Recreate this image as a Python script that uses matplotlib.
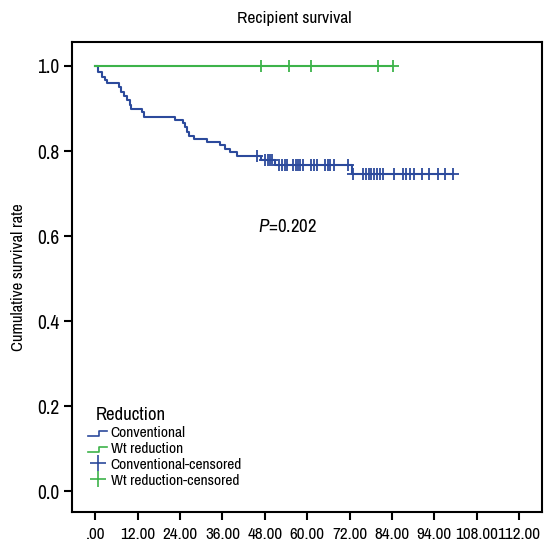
import numpy as np
import matplotlib
matplotlib.use('Agg')
import matplotlib.pyplot as plt
from matplotlib import font_manager
from matplotlib.lines import Line2D
from matplotlib.legend_handler import HandlerBase

# pick a narrow face if one is there
names = {(f.name, f.stretch) for f in font_manager.fontManager.ttflist}
narrow = [n for n, s in names if 'Narrow' in n or 'Condensed' in n]
if narrow:
    fam = sorted(narrow)[0]
    plt.rcParams['font.family'] = [fam, 'DejaVu Sans']
else:
    fam = 'DejaVu Sans'
    plt.rcParams['font.family'] = ['DejaVu Sans']
    plt.rcParams['font.stretch'] = 'condensed'
plt.rcParams['mathtext.fontset'] = 'custom'
plt.rcParams['mathtext.it'] = fam + ':italic'
plt.rcParams['mathtext.rm'] = fam

# Conventional group: step times (months) and survival after each step
conv_times = [0, 0.8, 1.8, 2.7, 3.4, 6.7, 7.4, 8.2, 9.0, 9.8, 10.1, 13.1, 13.7,
              22.5, 24.7, 25.4, 25.9, 26.5, 28.0, 31.5, 35.3, 36.7, 38.2, 40.0,
              47.0, 51.0, 72.6]
conv_surv = [1.0, 0.985, 0.975, 0.968, 0.96, 0.95, 0.938, 0.93, 0.919, 0.909,
             0.899, 0.891, 0.88, 0.872, 0.865, 0.856, 0.844, 0.836, 0.829,
             0.821, 0.813, 0.805, 0.797, 0.788, 0.78, 0.766, 0.746]
conv_censored = [45.8, 48.0, 48.8, 49.4, 50.1,
                 52.1, 52.9, 53.7, 54.3, 56.0, 56.7, 57.4, 58.1, 58.8, 61.2,
                 61.9, 62.8, 65.0, 65.8, 66.4, 67.5, 71.6,
                 72.9, 75.9, 76.6, 77.5, 78.2, 79.0, 79.8, 80.6, 81.5, 84.5,
                 87.0, 88.0, 89.0, 90.2, 92.5, 94.5, 97.0, 99.0, 101.4]

# Weight reduction group: no events
wt_times = [0]
wt_surv = [1.0]
wt_censored = [46.8, 54.9, 61.0, 80.0, 84.2]

xtick_pos = [0, 12, 24, 36, 48, 60, 72, 84, 96, 108, 120]
xtick_labels = ['.00', '12.00', '24.00', '36.00', '48.00', '60.00', '72.00',
                '84.00', '94.00', '108.00', '112.00']
ytick_pos = [0.0, 0.2, 0.4, 0.6, 0.8, 1.0]

blue = '#2c4a9c'
green = '#3db34a'


def surv_at(times, surv, t):
    idx = np.searchsorted(times, t, side='right') - 1
    return np.array(surv)[idx]


class StepHandler(HandlerBase):
    def create_artists(self, legend, orig_handle, xdescent, ydescent,
                       width, height, fontsize, trans):
        x0 = -xdescent
        y0 = -ydescent + height * 0.1
        y1 = -ydescent + height * 0.55
        xs = [x0, x0 + width * 0.55, x0 + width * 0.55, x0 + width]
        ys = [y0, y0, y1, y1]
        ln = Line2D(xs, ys, color=orig_handle.get_color(), lw=1.2,
                    transform=trans)
        return [ln]


fig = plt.figure(figsize=(5.51, 5.45), dpi=100)
ax = fig.add_axes([0.1307, 0.0606, 0.853, 0.862])

conv_end = max(conv_censored)
ax.step(conv_times + [conv_end], conv_surv + [conv_surv[-1]], where='post',
        color=blue, lw=1.5)
wt_end = max(wt_censored)
ax.step(wt_times + [wt_end], wt_surv + [wt_surv[-1]], where='post',
        color=green, lw=1.5)

ax.plot(conv_censored, surv_at(conv_times, conv_surv, conv_censored),
        linestyle='none', marker='+', color=blue, ms=8, mew=1.3)
ax.plot(wt_censored, surv_at(wt_times, wt_surv, wt_censored),
        linestyle='none', marker='+', color=green, ms=8, mew=1.3)

ax.text(46, 0.622, r'$P$=0.202', fontsize=13.5, va='center', ha='left')

ax.set_xlim(-6.6, 126.5)
ax.set_ylim(-0.049, 1.056)
ax.set_xticks(xtick_pos)
ax.set_xticklabels(xtick_labels)
ax.set_yticks(ytick_pos)
ax.set_yticklabels(['%.1f' % v for v in ytick_pos])
ax.tick_params(direction='out', length=6, width=1.5, labelsize=14, pad=3)
ax.tick_params(axis='x', pad=5, labelsize=12.3)
for sp in ax.spines.values():
    sp.set_linewidth(1.5)

fig.text(294 / 551, 1 - 19 / 545, 'Recipient survival', fontsize=12.5,
         ha='center', va='center')
ax.set_ylabel('Cumulative survival rate', fontsize=12)
ax.yaxis.set_label_coords(-0.098, 0.5)

h_conv = Line2D([], [], color=blue)
h_wt = Line2D([], [], color=green)
h_conv_c = Line2D([], [], color=blue, marker='+', linestyle='none', ms=11, mew=1.2)
h_wt_c = Line2D([], [], color=green, marker='+', linestyle='none', ms=11, mew=1.2)
ax.legend([h_conv, h_wt, h_conv_c, h_wt_c],
          ['Conventional', 'Wt reduction', 'Conventional-censored',
           'Wt reduction-censored'],
          handler_map={h_conv: StepHandler(), h_wt: StepHandler()},
          loc='upper left', bbox_to_anchor=(0.034, 0.183), frameon=False,
          fontsize=11.2, handlelength=1.25, handletextpad=0.2,
          labelspacing=0.12, borderpad=0, borderaxespad=0)
ax.text(0.051, 0.206, 'Reduction', transform=ax.transAxes, fontsize=13.5,
        ha='left', va='center')

fig.savefig('out.png', dpi=100)
